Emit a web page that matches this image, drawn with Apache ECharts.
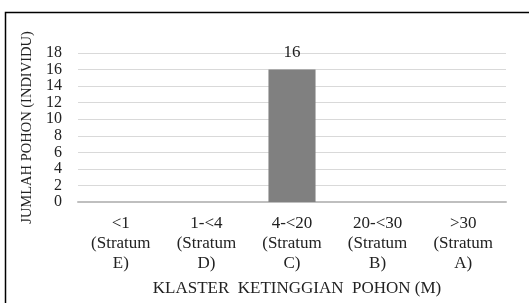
<!DOCTYPE html>
<html>
<head>
<meta charset="utf-8">
<script src="https://cdn.jsdelivr.net/npm/echarts@6/dist/echarts.min.js"></script>
<style>
  html, body { margin: 0; padding: 0; background: #fff; }
  #chart { width: 529px; height: 303px; }
</style>
</head>
<body>
<div id="chart"></div>
<script>
var categories = ['<1\n(Stratum\nE)', '1-<4\n(Stratum\nD)', '4-<20\n(Stratum\nC)', '20-<30\n(Stratum\nB)', '>30\n(Stratum\nA)'];
var values = [0, 0, 16, 0, 0];
var labelShown = [false, false, true, false, false];

var chart = echarts.init(document.getElementById('chart'));
var font = '"Liberation Serif", "Times New Roman", serif';

var option = {
    animation: false,
    textStyle: { fontFamily: font },
    graphic: [
        {
            type: 'rect',
            shape: { x: 5.5, y: 12.5, width: 540, height: 310 },
            style: { fill: 'none', stroke: '#000', lineWidth: 1.5 },
            silent: true
        }
    ],
    grid: { left: 78, right: 23, top: 53, bottom: 101 },
    xAxis: {
        type: 'category',
        data: categories,
        name: 'KLASTER  KETINGGIAN  POHON (M)',
        nameLocation: 'middle',
        nameGap: 78,
        nameTextStyle: { fontFamily: font, fontSize: 17, color: '#222', padding: [0, 0, 0, 10] },
        axisLine: { lineStyle: { color: '#bfbfbf', width: 2 } },
        axisTick: { show: false },
        axisLabel: {
            interval: 0, fontFamily: font, fontSize: 17, color: '#222',
            lineHeight: 20, margin: 12
        }
    },
    yAxis: {
        type: 'value',
        min: 0, max: 18, interval: 2,
        name: 'JUMLAH POHON (INDIVIDU)',
        nameLocation: 'middle',
        nameRotate: 90,
        nameGap: 35,
        nameTextStyle: { fontFamily: font, fontSize: 14.5, color: '#222' },
        axisLine: { show: false },
        axisTick: { show: false },
        axisLabel: { fontFamily: font, fontSize: 16, color: '#222', margin: 16 },
        splitLine: { lineStyle: { color: '#d9d9d9', width: 1 } }
    },
    series: [
        {
            type: 'bar',
            barWidth: '55%',
            itemStyle: { color: '#808080' },
            data: values.map(function (v, i) {
                return {
                    value: v,
                    label: {
                        show: labelShown[i], position: 'top', distance: 9,
                        fontFamily: font, fontSize: 17, color: '#222'
                    }
                };
            })
        }
    ]
};

chart.setOption(option);
</script>
</body>
</html>
